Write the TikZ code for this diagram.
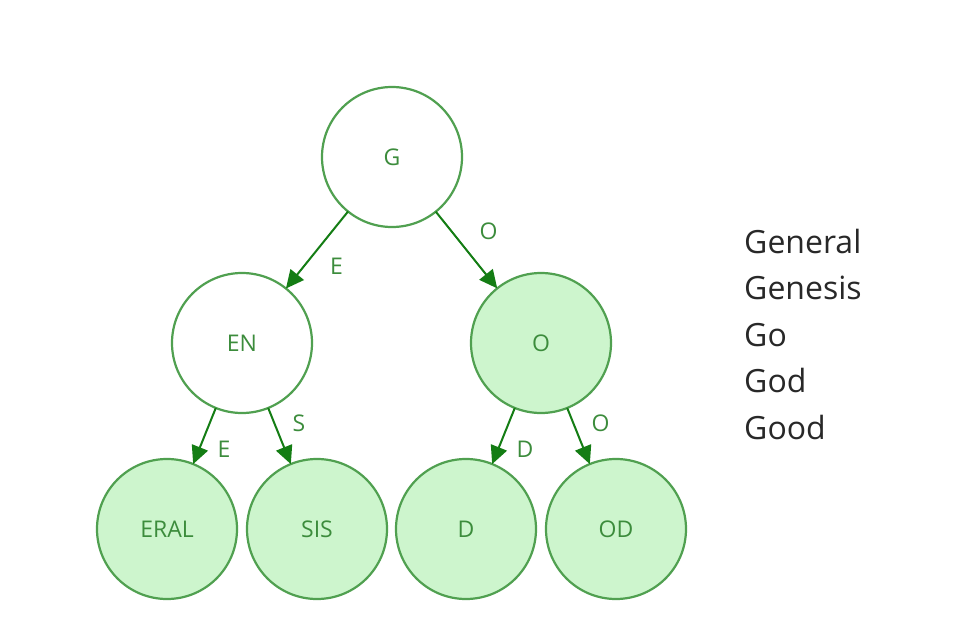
\documentclass[tikz,border=0pt]{standalone}
\usepackage{fontspec}
\setmainfont{Open Sans}
\usetikzlibrary{arrows.meta}
\definecolor{trieline}{RGB}{80,160,80}
\definecolor{triefill}{RGB}{205,245,205}
\definecolor{trietext}{RGB}{60,140,60}
\definecolor{triearrow}{RGB}{20,125,20}
\definecolor{wordtext}{RGB}{40,40,40}
\tikzset{
  trie/.style={circle, draw=trieline, line width=2.2pt, minimum size=140pt,
    inner sep=0pt, outer sep=0pt, text=trietext, font=\fontsize{23}{23}\selectfont},
  endword/.style={trie, fill=triefill},
  link/.style={draw=triearrow, line width=2pt, -{Triangle[length=18pt,width=17pt]}},
  letter/.style={midway, auto, xshift=5pt, text=trietext, inner sep=7pt, font=\fontsize{23}{23}\selectfont}
}
\begin{document}
\begin{tikzpicture}[x=1pt,y=-1pt]
    \useasboundingbox[fill=white] (0,0) rectangle (959,632);
    \node[trie] (G) at (392,157) {G};
    \node[trie] (EN) at (242,343) {EN};
    \node[endword] (O) at (541,343) {O};
    \node[endword] (ERAL) at (167,529) {ERAL};
    \node[endword] (SIS) at (317,529) {SIS};
    \node[endword] (D) at (466,529) {D};
    \node[endword] (OD) at (616,529) {OD};
    \draw[link] (G) -- node[letter] {E} (EN);
    \draw[link] (G) -- node[letter, yshift=2pt] {O} (O);
    \draw[link] (EN) -- node[letter, yshift=3pt] {E} (ERAL);
    \draw[link] (EN) -- node[letter, yshift=-4pt] {S} (SIS);
    \draw[link] (O) -- node[letter, yshift=3pt] {D} (D);
    \draw[link] (O) -- node[letter, yshift=-4pt] {O} (OD);
    \foreach \w [count=\i from 0] in {General,Genesis,Go,God,Good}
        \node[anchor=base west, inner sep=0pt, text=wordtext, font=\fontsize{32}{32}\selectfont] (word\i) at (744,253+46.5*\i) {\w};
\end{tikzpicture}
\end{document}
